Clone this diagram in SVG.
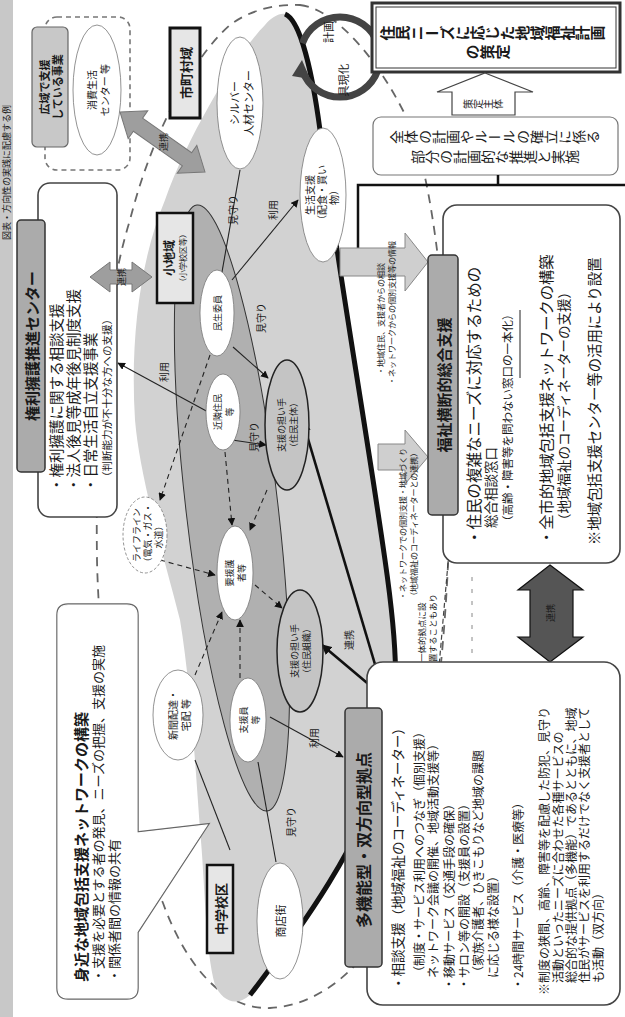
<svg xmlns="http://www.w3.org/2000/svg" width="625" height="1017" viewBox="0 0 625 1017">
<defs>
<style>
text{font-family:"Noto Sans CJK JP","Noto Sans CJK SC",sans-serif;fill:#1a1a1a;dominant-baseline:central}
.v{writing-mode:vertical-rl}
.b{font-weight:bold}
.m{text-anchor:middle}
.ln{stroke:#222;stroke-width:1.1;fill:none}
.dl{stroke:#222;stroke-width:1.1;fill:none;stroke-dasharray:5 4}
.node{fill:#fff;stroke:#777;stroke-width:0.8}
.hat{fill:#c4c4c4;stroke:#222;stroke-width:1.5}
.hdr{fill:#ababab;stroke:#333;stroke-width:1.5}
.box{fill:#fff;stroke:#444;stroke-width:1.6}
</style>
<marker id="a" viewBox="0 0 10 10" refX="9" refY="5" markerWidth="7" markerHeight="7" orient="auto-start-reverse"><path d="M0,0 L10,5 L0,10 z" fill="#111"/></marker>
<marker id="A" viewBox="0 0 10 10" refX="9" refY="5" markerWidth="4" markerHeight="4" orient="auto-start-reverse"><path d="M0,0 L10,5 L0,10 z" fill="#111"/></marker>
</defs>
<rect width="625" height="1017" fill="#fff"/>
<g id="page-strip">
<rect x="0" y="0" width="13" height="1017" fill="#c8c8c8"/>
<text transform="translate(6,240) rotate(-90)" font-size="9" fill="#333">図表・方向性の実践に配慮する例</text>
</g>
<g id="area">
<path d="M300,5 C340,10 385,70 410,125 C440,200 452,380 450,500 C448,640 430,800 400,890 C380,950 330,1005 270,1008 C215,1010 180,950 163,903 C130,830 100,700 97,560 C95,420 105,300 130,220 C150,140 190,60 230,25 C250,10 275,4 300,5 Z" fill="none" stroke="#666" stroke-width="1.8" stroke-dasharray="9 7"/>
<path d="M285,14 C300,20 312,70 320,130 C335,250 365,420 385,560 C398,650 400,700 385,760 C365,840 300,930 250,995 C235,1008 222,1000 215,985 C205,950 205,880 200,830 C195,760 190,680 180,620 C165,560 140,480 135,420 C130,340 140,260 165,200 C190,130 240,50 265,25 C272,17 279,13 285,14 Z" fill="#d2d2d2"/>
<ellipse cx="232" cy="508" rx="46" ry="305" transform="rotate(-6.6 232 508)" fill="#b0b0b0" stroke="#333" stroke-width="1"/>
<path d="M285,14 C300,20 312,70 320,130 C335,250 365,420 385,560 C398,650 400,700 385,760 C365,840 300,930 250,995" fill="none" stroke="#111" stroke-width="5"/>
</g>
<g id="connectors">
<line class="ln" x1="240" y1="170" x2="222" y2="272"/>
<line class="ln" x1="232" y1="280" x2="298" y2="200" marker-end="url(#a)"/>
<line class="ln" x1="233" y1="347" x2="268" y2="378" marker-end="url(#a)"/>
<line class="ln" x1="232" y1="440" x2="266" y2="445" marker-end="url(#a)"/>
<line class="ln" x1="210" y1="413" x2="118" y2="363" marker-end="url(#a)"/>
<line class="ln" x1="270" y1="717" x2="343" y2="757" marker-end="url(#a)"/>
<line class="ln" x1="276" y1="862" x2="258" y2="762"/>
<line class="ln" x1="195" y1="760" x2="230" y2="850"/>
<line class="dl" x1="267" y1="490" x2="250" y2="530" marker-end="url(#a)"/>
<line class="dl" x1="160" y1="560" x2="215" y2="575" marker-end="url(#a)"/>
<line class="dl" x1="195" y1="675" x2="222" y2="612" marker-end="url(#a)"/>
<line class="dl" x1="255" y1="585" x2="282" y2="608" marker-end="url(#a)"/>
<line class="dl" x1="240" y1="678" x2="240" y2="620" marker-end="url(#a)"/>
<line class="dl" x1="225" y1="452" x2="232" y2="525" marker-end="url(#a)"/>
<line class="dl" x1="210" y1="355" x2="160" y2="500" marker-end="url(#a)"/>
<line x1="303" y1="422" x2="385" y2="698" stroke="#111" stroke-width="2.6" marker-start="url(#A)" marker-end="url(#A)"/>
<line x1="322" y1="645" x2="385" y2="698" stroke="#111" stroke-width="2.6" marker-start="url(#A)" marker-end="url(#A)"/>
<text class="m" font-size="10" transform="translate(232,210) rotate(-90)">見守り</text>
<text class="m" font-size="10" transform="translate(272,210) rotate(-90)">利用</text>
<text class="m" font-size="10" transform="translate(260,318) rotate(-90)">見守り</text>
<text class="m" font-size="10" transform="translate(253,437) rotate(-90)">見守り</text>
<text class="m" font-size="10" transform="translate(163,372) rotate(-90)">利用</text>
<text class="m" font-size="10" transform="translate(313,738) rotate(-90)">利用</text>
<text class="m" font-size="10" transform="translate(290,822) rotate(-90)">見守り</text>
<text class="m" font-size="10" transform="translate(348,640) rotate(-90)">連携</text>
</g>
<g id="n-silver"><ellipse class="node" cx="240" cy="103" rx="23" ry="66"/>
<text class="m" font-size="11" transform="translate(234,103) rotate(-90)">シルバー</text>
<text class="m" font-size="11" transform="translate(248,103) rotate(-90)">人材センター</text></g>
<g id="n-seikatsu"><ellipse class="node" cx="323" cy="195" rx="23" ry="67"/>
<text class="m" font-size="10" transform="translate(309,195) rotate(-90)">生活支援</text>
<text class="m" font-size="10" transform="translate(321,195) rotate(-90)">（配食・買い</text>
<text class="m" font-size="10" transform="translate(333,195) rotate(-90)">物）</text></g>
<g id="n3"><ellipse class="node" cx="217" cy="313" rx="17" ry="43"/>
<text class="m" font-size="9" transform="translate(217,313) rotate(-90)">民生委員</text></g>
<g id="n4"><ellipse class="node" cx="223" cy="412" rx="17" ry="38"/>
<text class="m" font-size="9" transform="translate(217,412) rotate(-90)">近隣住民</text>
<text class="m" font-size="9" transform="translate(229,412) rotate(-90)">等</text></g>
<g id="n5"><ellipse class="node" cx="235" cy="573" rx="18" ry="47"/>
<text class="m" font-size="9" transform="translate(229,573) rotate(-90)">要援護</text>
<text class="m" font-size="9" transform="translate(241,573) rotate(-90)">者等</text></g>
<g id="n6"><ellipse class="node" cx="248" cy="720" rx="18" ry="42"/>
<text class="m" font-size="9" transform="translate(243,720) rotate(-90)">支援員</text>
<text class="m" font-size="9" transform="translate(255,720) rotate(-90)">等</text></g>
<g id="n-shoten"><ellipse class="node" cx="280" cy="921" rx="23" ry="58"/>
<text class="m" font-size="11" transform="translate(280,921) rotate(-90)">商店街</text></g>
<g id="n-shinbun"><ellipse class="node" cx="178" cy="715" rx="25" ry="45"/>
<text class="m" font-size="10" transform="translate(172,715) rotate(-90)">新聞配達・</text>
<text class="m" font-size="10" transform="translate(185,715) rotate(-90)">宅配 等</text></g>
<g id="n-life"><ellipse class="node" cx="145" cy="535" rx="22" ry="38" stroke-dasharray="3 2"/>
<text class="m" font-size="9" transform="translate(136,535) rotate(-90)">ライフライン</text>
<text class="m" font-size="9" transform="translate(147,535) rotate(-90)">（電気・ガス・</text>
<text class="m" font-size="9" transform="translate(158,535) rotate(-90)">水道）</text></g>
<g id="n-ninaite1"><ellipse class="hat" cx="287" cy="425" rx="22" ry="65"/>
<text class="m" font-size="9" transform="translate(281,425) rotate(-90)">支援の担い手</text>
<text class="m" font-size="9" transform="translate(293,425) rotate(-90)">（住民主体）</text></g>
<g id="n-ninaite2"><ellipse class="hat" cx="300" cy="651" rx="23" ry="61"/>
<text class="m" font-size="9" transform="translate(294,651) rotate(-90)">支援の担い手</text>
<text class="m" font-size="9" transform="translate(306,651) rotate(-90)">（住民組織）</text></g>
<g id="kouiki">
<rect x="45" y="17" width="85" height="153" rx="12" fill="none" stroke="#777" stroke-width="1.6" stroke-dasharray="5 4"/>
<rect x="32" y="27" width="36" height="120" rx="5" fill="#c8c8c8" stroke="#666" stroke-width="1.2"/>
<text class="m b" font-size="11" transform="translate(44,87) rotate(-90)">広域で支援</text>
<text class="m b" font-size="11" transform="translate(57,87) rotate(-90)">している事業</text>
<ellipse class="node" cx="97" cy="90" rx="24" ry="65"/>
<text class="m" font-size="10" transform="translate(91,90) rotate(-90)">消費生活</text>
<text class="m" font-size="10" transform="translate(104,90) rotate(-90)">センター 等</text>
</g>
<g id="shichoson"><rect x="170" y="28" width="30" height="90" fill="#e6e6e6" stroke="#111" stroke-width="3"/>
<text class="m b" font-size="13" transform="translate(185,73) rotate(-90)">市町村域</text></g>
<g id="shochiiki"><rect x="157" y="213" width="36" height="90" fill="#e6e6e6" stroke="#111" stroke-width="2.5"/>
<text class="m b" font-size="12" transform="translate(168,258) rotate(-90)">小地域</text>
<text class="m" font-size="8" transform="translate(182,258) rotate(-90)">（小学校区等）</text></g>
<g id="chugaku"><rect x="207" y="865" width="26" height="88" fill="#e6e6e6" stroke="#111" stroke-width="2.5"/>
<text class="m b" font-size="13" transform="translate(220,909) rotate(-90)">中学校区</text></g>
<g id="renkei1">
<polygon points="0,0 22,-17 22,-8 82,-8 82,-17 104,0 82,17 82,8 22,8 22,17" transform="translate(120,112) rotate(35.2)" fill="#9e9e9e" stroke="#777"/>
<text class="m" font-size="9" transform="translate(163,142) rotate(-90)">連携</text>
</g>
<g id="kenri">
<rect class="box" x="38" y="183" width="79" height="334" rx="12"/>
<rect class="hdr" x="17" y="220" width="28" height="252" rx="4"/>
<text class="m b" font-size="15" transform="translate(31,346) rotate(-90)">権利擁護推進センター</text>
<text font-size="14.5" transform="translate(55,492) rotate(-90)">・権利擁護に関する相談支援</text>
<text font-size="14.5" transform="translate(72,492) rotate(-90)">・法人後見等成年後見制度支援</text>
<text font-size="14.5" transform="translate(89,492) rotate(-90)">・日常生活自立支援事業</text>
<text font-size="10.5" transform="translate(106,482) rotate(-90)">（判断能力が不十分な方への支援）</text>
</g>
<g id="renkei2">
<polygon points="90,277 110,262 110,270 132,270 132,262 152,277 132,292 132,284 110,284 110,292" fill="#9e9e9e" stroke="#777"/>
<text class="m" font-size="9" transform="translate(121,277) rotate(-90)">連携</text>
</g>
<g id="balloon">
<path d="M68,605 H127 Q137,605 137,615 V833 L207,825 L137,932 V988 Q137,998 127,998 H68 Q58,998 58,988 V615 Q58,605 68,605 Z" fill="#fff" stroke="#666" stroke-width="3.5"/>
<path d="M68,605 H127 Q137,605 137,615 V833 L207,825 L137,932 V988 Q137,998 127,998 H68 Q58,998 58,988 V615 Q58,605 68,605 Z" fill="#fff" stroke="#fff" stroke-width="1.2"/>
<text class="b" font-size="15" transform="translate(80,982) rotate(-90)">身近な地域包括支援ネットワークの構築</text>
<text font-size="13" transform="translate(97,982) rotate(-90)">・支援を必要とする者の発見、ニーズの把握、支援の実施</text>
<text font-size="13" transform="translate(113,982) rotate(-90)">・関係者間の情報の共有</text>
</g>
<g id="cycle">
<path d="M302.4,43.3 A40,40 0 0 1 377.6,43.3" fill="none" stroke="#444" stroke-width="7"/>
<polygon points="370,35 388,38 378,54" fill="#444"/>
<path d="M377.6,70.7 A40,40 0 0 1 302.4,70.7" fill="none" stroke="#444" stroke-width="7"/>
<polygon points="310,79 292,76 302,60" fill="#444"/>
<text class="m" font-size="11" transform="translate(328,32) rotate(-90)">計画</text>
<text class="m" font-size="11" transform="translate(343,80) rotate(-90)">具現化</text>
</g>
<g id="keikaku">
<rect x="372" y="3" width="248" height="69" fill="#fff" stroke="#333" stroke-width="3"/>
<rect x="376" y="7" width="240" height="61" fill="none" stroke="#333" stroke-width="1"/>
<text class="v m b" font-size="15" transform="translate(492,33) rotate(-90)">住民ニーズに応じた地域福祉計画</text>
<text class="v m b" font-size="15" transform="translate(487,52) rotate(-90)">の策定</text>
</g>
<g id="sakutei">
<polygon points="485,73 533,92 515,92 515,115 452,115 452,92 437,92" fill="#fff" stroke="#444" stroke-width="1.2"/>
<text class="v m" font-size="10" transform="translate(483,104) rotate(-90)">策定主体</text>
</g>
<g id="zentai">
<rect x="373" y="117" width="245" height="58" rx="8" fill="#fff" stroke="#777" stroke-width="1.2"/>
<text class="v m" font-size="14" transform="translate(495,137) rotate(-90)">全体の計画やルールの確立に係る</text>
<text class="v m" font-size="14" transform="translate(495,157) rotate(-90)">部分の計画的な推進と実施</text>
</g>
<path d="M358,262 V185 H625 M498,175 V185" fill="none" stroke="#111" stroke-width="2.5"/>
<g id="arrowA">
<polygon points="340,248 405,248 405,233 428,262 405,291 405,276 340,276" fill="#cfcfcf" stroke="#888"/>
</g>
<g id="arrowB">
<polygon points="378,444 405,444 405,430 428,457 405,484 405,470 378,470" fill="#cfcfcf" stroke="#888"/>
</g>
<text font-size="8" transform="translate(380,375) rotate(-90)">・地域住民、支援者からの相談</text>
<text font-size="8" transform="translate(391,385) rotate(-90)">・ネットワークからの個別支援等の情報</text>
<text font-size="8" transform="translate(402,600) rotate(-90)">・ネットワークでの個別支援・地域づくり</text>
<text font-size="8" transform="translate(413,600) rotate(-90)">（地域福祉のコーディネーターとの連携）</text>
<g id="fukushi">
<rect class="box" x="443" y="205" width="177" height="358" rx="14"/>
<rect class="hdr" x="428" y="255" width="30" height="260" rx="4"/>
<text class="m b" font-size="15" transform="translate(443,385) rotate(-90)">福祉横断的総合支援</text>
<text font-size="15.5" transform="translate(473,545) rotate(-90)">・住民の複雑なニーズに対応するための</text>
<text font-size="13.5" transform="translate(490,528) rotate(-90)">総合相談窓口</text>
<text font-size="11.5" transform="translate(507,527) rotate(-90)">（高齢・障害等を問わない窓口の一本化）</text>
<line x1="520" y1="310" x2="520" y2="378" stroke="#222" stroke-width="1"/>
<text font-size="15.3" transform="translate(545,545) rotate(-90)">・全市的地域包括支援ネットワークの構築</text>
<text font-size="13.5" transform="translate(563,527) rotate(-90)">（地域福祉のコーディネーターの支援）</text>
<text font-size="14.4" transform="translate(593,545) rotate(-90)">※地域包括支援センター等の活用により設置</text>
</g>
<g id="renkei3">
<polygon points="550,565 583,590 573,590 573,637 583,637 550,662 518,637 530,637 530,590 518,590" fill="#555" stroke="#111" stroke-width="1.2"/>
<text class="m" font-size="9" fill="#eee" transform="translate(550,613) rotate(-90)">連携</text>
</g>
<line x1="448" y1="563" x2="437" y2="690" stroke="#444" stroke-width="1.2" stroke-dasharray="5 3" marker-end="url(#A)"/>
<line x1="472" y1="577" x2="472" y2="660" stroke="#888" stroke-width="1" stroke-dasharray="4 8"/>
<text font-size="8.5" transform="translate(421,662) rotate(-90)">一体的拠点に設</text>
<text font-size="8.5" transform="translate(432,662) rotate(-90)">置することもあり</text>
<g id="takino">
<rect class="box" x="367" y="662" width="253" height="343" rx="16"/>
<rect class="hdr" x="345" y="708" width="37" height="259" rx="4"/>
<text class="m b" font-size="16" transform="translate(363,840) rotate(-90)">多機能型・双方向型拠点</text>
<text font-size="13.5" transform="translate(397,990) rotate(-90)">・相談支援（地域福祉のコーディネーター）</text>
<text font-size="12" transform="translate(418,978) rotate(-90)">（制度・サービス利用へのつなぎ（個別支援）</text>
<text font-size="12" transform="translate(432,978) rotate(-90)">ネットワーク会議の開催、地域活動支援等）</text>
<text font-size="12" transform="translate(448,990) rotate(-90)">・移動サービス（交通手段の確保）</text>
<text font-size="12" transform="translate(463,990) rotate(-90)">・サロン等の開設（支援員の設置）</text>
<text font-size="12" transform="translate(477,978) rotate(-90)">（家族介護者、ひきこもりなど地域の課題</text>
<text font-size="12" transform="translate(492,978) rotate(-90)">に応じる様な設置）</text>
<text font-size="12" transform="translate(517,990) rotate(-90)">・24時間サービス（介護・医療等）</text>
<text font-size="12" transform="translate(543,995) rotate(-90)">※制度の狭間、高齢、障害等を配慮した防犯、見守り</text>
<text font-size="12" transform="translate(557,983) rotate(-90)">活動といったニーズに合わせた各種サービスの</text>
<text font-size="12" transform="translate(570,983) rotate(-90)">総合的な提供拠点（多機能）であるとともに、地域</text>
<text font-size="12" transform="translate(583,983) rotate(-90)">住民がサービスを利用するだけでなく支援者として</text>
<text font-size="12" transform="translate(597,983) rotate(-90)">も活動（双方向）</text>
</g>
</svg>
